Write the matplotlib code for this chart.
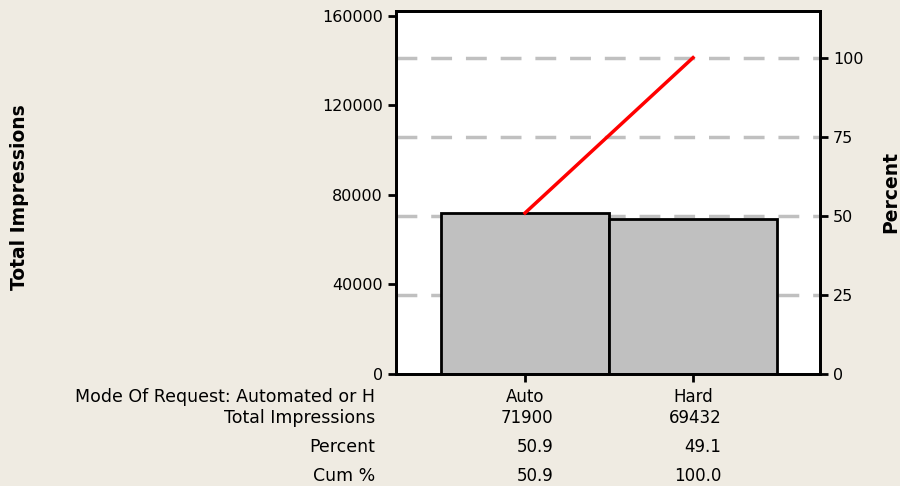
import matplotlib.pyplot as plt
from matplotlib.transforms import blended_transform_factory

# data
categories = ["Auto", "Hard"]
impressions = [71900, 69432]
percent = [50.9, 49.1]
cum_percent = [50.9, 100.0]
pct_ticks = [0, 25, 50, 75, 100]
left_ticks = [0, 40000, 80000, 120000, 160000]

bg = "#efebe2"
plt.rcParams["font.family"] = "DejaVu Sans"

fig = plt.figure(figsize=(9, 4.86), dpi=100, facecolor=bg)
# axes box in pixel terms: x 396..820, y 11..374
ax = fig.add_axes([396 / 900, 1 - 374 / 486, 424 / 900, 363 / 486])
ax2 = ax.twinx()

total = sum(impressions)
xs = list(range(len(categories)))

# dashed reference lines at the percent ticks, kept behind the bars
for p in pct_ticks[1:]:
    ax.axhline(total * p / 100, color="#c0c0c0", lw=2.5, ls=(0, (6, 4)), zorder=1)

ax.bar(xs, impressions, width=1.0, color="#c0c0c0", edgecolor="black", lw=2, zorder=2)

ax.set_xlim(-0.768, 1.756)
ax.set_ylim(0, 162200)
ax.set_yticks(left_ticks)
ax.set_yticklabels([str(t) for t in left_ticks])
ax.set_xticks(xs)
ax.set_xticklabels([])

ax2.plot(xs, cum_percent, color="red", lw=2.5, zorder=3)
ax2.set_ylim(0, 162200 / total * 100)
ax2.set_yticks(pct_ticks)

for a in (ax, ax2):
    for s in a.spines.values():
        s.set_linewidth(2)
    a.tick_params(width=2, length=6, labelsize=11.5, colors="black")

# axis titles placed by hand so the right one stays inside the picture
fig.text(20 / 900, 1 - 197 / 486, "Total Impressions", rotation=90,
         ha="center", va="center", fontweight="bold", fontsize=13.5)
fig.text(891 / 900, 1 - 192 / 486, "Percent", rotation=90,
         ha="center", va="center", fontweight="bold", fontsize=13.5)

# table underneath the chart
tr = blended_transform_factory(ax.transData, fig.transFigure)
row_y = [1 - 397 / 486, 1 - 418 / 486, 1 - 447 / 486, 1 - 476 / 486]
row_names = ["Mode Of Request: Automated or H", "Total Impressions", "Percent", "Cum %"]
for name, y in zip(row_names, row_y):
    fig.text(375 / 900, y, name, ha="right", va="center", fontsize=12.5)

for i, x in enumerate(xs):
    ax.text(x, row_y[0], categories[i], transform=tr, ha="center", va="center", fontsize=12)
    cells = [str(impressions[i]), f"{percent[i]:.1f}", f"{cum_percent[i]:.1f}"]
    for val, y in zip(cells, row_y[1:]):
        ax.text(x + 0.17, y, val, transform=tr, ha="right", va="center", fontsize=12)

fig.savefig("out.png", dpi=100, facecolor=bg)
